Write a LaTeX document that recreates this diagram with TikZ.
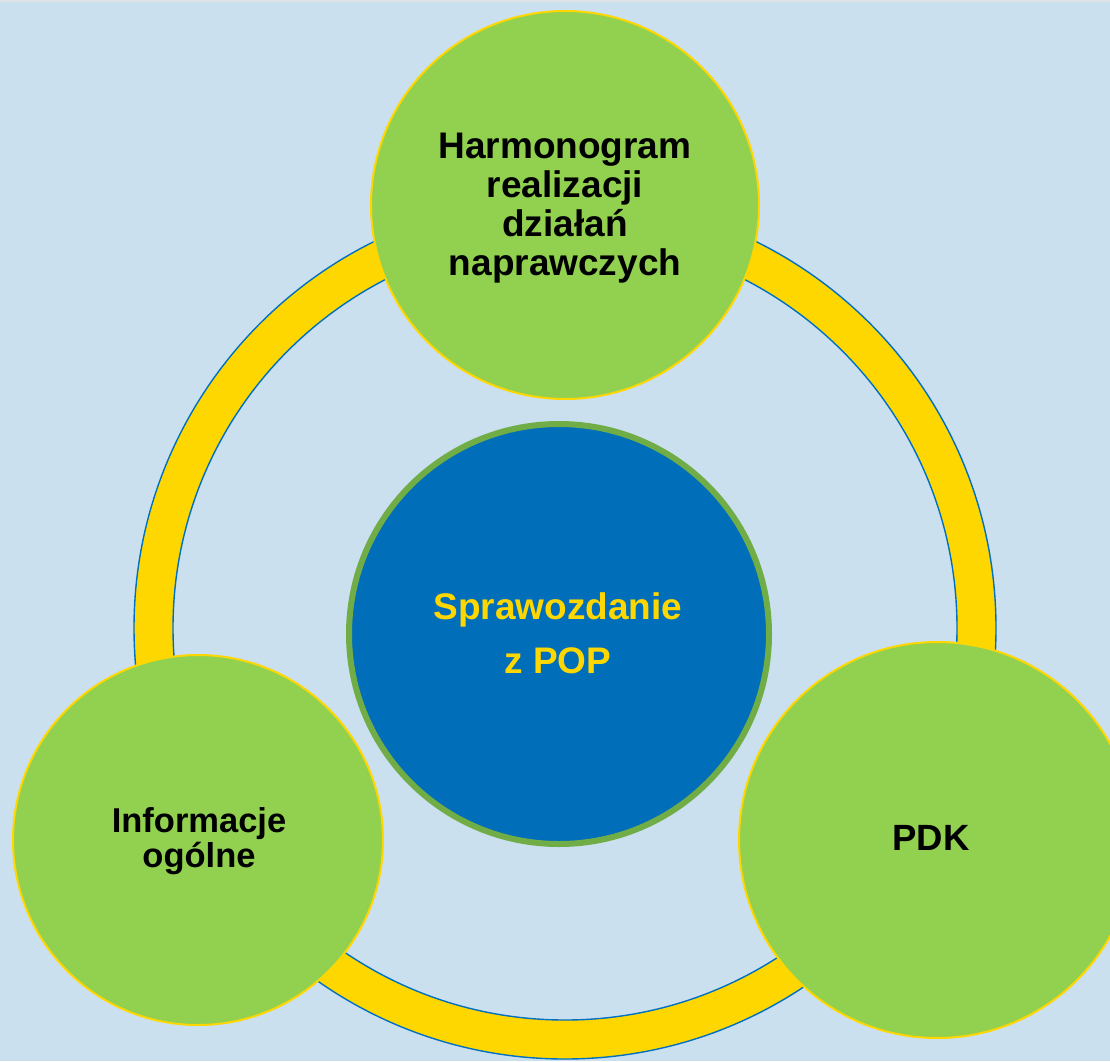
\documentclass[tikz,border=0pt]{standalone}
\usepackage{fontspec}
\setmainfont{Liberation Sans}
\definecolor{bgblue}{HTML}{CBE0EE}
\definecolor{leaf}{HTML}{92D050}
\definecolor{gold}{HTML}{FFD700}
\definecolor{deepblue}{HTML}{006EB8}
\definecolor{rimgreen}{HTML}{70AD47}
\definecolor{ringline}{HTML}{0070C0}
\definecolor{topline}{HTML}{DCE2E6}
\tikzset{
  leafcircle/.style={circle, fill=leaf, draw=gold, line width=2pt, inner sep=0pt},
  leaftext/.style={align=center, font=\bfseries\fontsize{36}{38}\selectfont, text=black},
  hubcircle/.style={circle, fill=deepblue, draw=rimgreen, line width=6pt, inner sep=0pt},
  hubtext/.style={align=center, font=\bfseries\fontsize{37}{54}\selectfont, text=gold},
  ringedge/.style={draw=ringline, line width=1.4pt}
}
\begin{document}
\begin{tikzpicture}[x=1pt,y=-1pt]
\useasboundingbox (0,0) rectangle (1110,1061);
\clip (0,0) rectangle (1110,1061);
\fill[bgblue] (0,0) rectangle (1110,1061);
\fill[topline] (0,0) rectangle (1110,1.5);
% ring
\coordinate (rc) at (565,628);
\fill[gold, even odd rule] (rc) circle[radius=431pt] (rc) circle[radius=392pt];
\draw[ringedge] (rc) circle[radius=431pt];
\draw[ringedge] (rc) circle[radius=392pt];
% hub
\node[hubcircle, minimum size=420pt] (hub) at (559,634) {};
\node[hubtext] (hubt) at (558,633) {Sprawozdanie\\z POP};
% leaves
\node[leafcircle, minimum size=388pt] (top) at (565,205) {};
\node[leaftext, font=\bfseries\fontsize{37}{39}\selectfont] (topt) at (565,208) {Harmonogram\\realizacji\\działań\\naprawczych};
\node[leafcircle, minimum size=370pt] (left) at (198,840) {};
\node[leaftext, font=\bfseries\fontsize{34.5}{35}\selectfont] (leftt) at (199,841) {Informacje\\ogólne};
\node[leafcircle, minimum size=396pt] (right) at (937,840) {};
\node[leaftext, font=\bfseries\fontsize{36.5}{38}\selectfont] (rightt) at (931,838) {PDK};
\end{tikzpicture}
\end{document}
